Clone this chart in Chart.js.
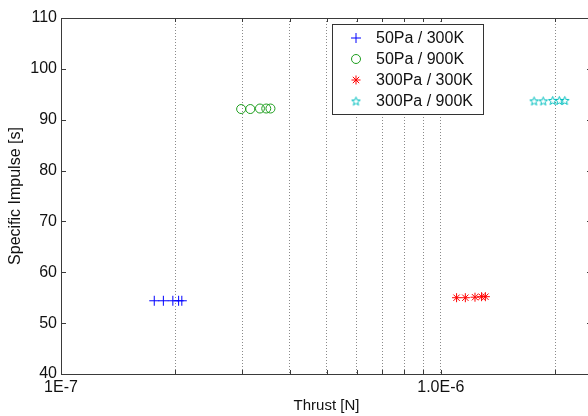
<!DOCTYPE html>
<html lang="en">
<head>
  <meta charset="UTF-8">
  <title>Specific Impulse vs Thrust</title>
  <script src="https://cdn.jsdelivr.net/npm/chart.js"></script>
  <style>
    html, body {
      margin: 0;
      padding: 0;
      background: #fff;
      overflow: hidden;
    }
    #wrap {
      width: 600px;
      height: 416px;
    }
  </style>
</head>
<body>
  <div id="wrap"><canvas id="ispChart"></canvas></div>

  <script>
    // Data
    const thrust50_300 = [1.76e-7, 1.86e-7, 1.97e-7, 2.04e-7, 2.08e-7];
    const isp50_300 = [54.4, 54.4, 54.4, 54.4, 54.4];

    const thrust50_900 = [2.98e-7, 3.15e-7, 3.34e-7, 3.47e-7, 3.56e-7];
    const isp50_900 = [92.1, 92.1, 92.2, 92.2, 92.2];

    const thrust300_300 = [1.10e-6, 1.16e-6, 1.23e-6, 1.28e-6, 1.31e-6];
    const isp300_300 = [55.0, 55.0, 55.1, 55.2, 55.2];

    const thrust300_900 = [1.76e-6, 1.86e-6, 1.97e-6, 2.05e-6, 2.12e-6];
    const isp300_900 = [93.7, 93.7, 93.8, 93.8, 93.8];

    const seriesLabels = ['50Pa / 300K', '50Pa / 900K', '300Pa / 300K', '300Pa / 900K'];

    const xMajorTicks = [1e-7, 1e-6];
    const xMajorLabels = ['1E-7', '1.0E-6'];
    const xMinorTicks = [2e-7, 3e-7, 4e-7, 5e-7, 6e-7, 7e-7, 8e-7, 9e-7, 2e-6];
    const yTicks = [40, 50, 60, 70, 80, 90, 100, 110];

    const axisColor = '#3a3a3a';
    const gridColor = '#8a8a8a';
    const fontFamily = '"Liberation Sans", Arial, sans-serif';

    // matlab-style pentagram marker
    function makePentagram(color, size) {
      const c = document.createElement('canvas');
      c.width = size;
      c.height = size;
      const g = c.getContext('2d');
      const cx = size / 2, cy = size / 2;
      const rOut = size / 2 - 1, rIn = rOut * 0.42;
      g.beginPath();
      for (let i = 0; i < 10; i++) {
        const r = i % 2 === 0 ? rOut : rIn;
        const a = -Math.PI / 2 + i * Math.PI / 5;
        const px = cx + r * Math.cos(a), py = cy + r * Math.sin(a) + 0.5;
        if (i === 0) g.moveTo(px, py); else g.lineTo(px, py);
      }
      g.closePath();
      g.strokeStyle = color;
      g.lineWidth = 1;
      g.stroke();
      return c;
    }
    const pentagram = makePentagram('#00bfbf', 11);

    function toPoints(xs, ys) {
      return xs.map((x, i) => ({ x: x, y: ys[i] }));
    }

    // box, inward ticks and the floating legend
    const matlabFrame = {
      id: 'matlabFrame',
      afterDraw(chart) {
        const ctx = chart.ctx;
        const a = chart.chartArea;
        const xs = chart.scales.x, ys = chart.scales.y;
        ctx.save();
        ctx.strokeStyle = axisColor;
        ctx.lineWidth = 1;
        ctx.beginPath();
        ctx.moveTo(a.left + 0.5, a.top + 0.5);
        ctx.lineTo(a.right + 0.5, a.top + 0.5);
        ctx.lineTo(a.right + 0.5, a.bottom + 0.5);
        ctx.lineTo(a.left + 0.5, a.bottom + 0.5);
        ctx.closePath();
        ctx.stroke();

        ctx.beginPath();
        xMajorTicks.concat(xMinorTicks).forEach(v => {
          const px = Math.round(xs.getPixelForValue(v)) + 0.5;
          ctx.moveTo(px, a.bottom);
          ctx.lineTo(px, a.bottom - 4);
          ctx.moveTo(px, a.top);
          ctx.lineTo(px, a.top + 4);
        });
        yTicks.forEach(v => {
          const py = Math.round(ys.getPixelForValue(v)) + 0.5;
          ctx.moveTo(a.left, py);
          ctx.lineTo(a.left + 5, py);
          ctx.moveTo(a.right, py);
          ctx.lineTo(a.right - 5, py);
        });
        ctx.stroke();

        // legend
        const bx = 332.5, by = 24.5, bw = 151, bh = 90;
        ctx.fillStyle = '#fff';
        ctx.fillRect(bx, by, bw, bh);
        ctx.strokeStyle = '#333';
        ctx.strokeRect(bx, by, bw, bh);
        ctx.font = '16px ' + fontFamily;
        ctx.textBaseline = 'middle';
        ctx.textAlign = 'left';
        chart.data.datasets.forEach((ds, i) => {
          const rowY = 38 + i * 21;
          ctx.strokeStyle = ds.borderColor;
          ctx.fillStyle = 'rgba(0,0,0,0)';
          Chart.helpers.drawPoint(ctx, {
            pointStyle: ds.pointStyle,
            radius: ds.pointRadius,
            borderWidth: 1,
            rotation: 0
          }, 356, rowY);
          ctx.fillStyle = '#111';
          ctx.fillText(ds.label, 376, rowY + 1);
        });
        ctx.restore();
      }
    };

    new Chart(document.getElementById('ispChart'), {
      type: 'scatter',
      data: {
        datasets: [{
          label: seriesLabels[0],
          data: toPoints(thrust50_300, isp50_300),
          pointStyle: 'cross',
          pointRadius: 5,
          borderColor: '#0000ff',
          backgroundColor: 'rgba(0,0,0,0)',
          pointBorderWidth: 1
        }, {
          label: seriesLabels[1],
          data: toPoints(thrust50_900, isp50_900),
          pointStyle: 'circle',
          pointRadius: 4.5,
          borderColor: '#1e9e1e',
          backgroundColor: 'rgba(0,0,0,0)',
          pointBorderWidth: 1
        }, {
          label: seriesLabels[2],
          data: toPoints(thrust300_300, isp300_300),
          pointStyle: 'star',
          pointRadius: 4.5,
          borderColor: '#ff0000',
          backgroundColor: 'rgba(0,0,0,0)',
          pointBorderWidth: 1
        }, {
          label: seriesLabels[3],
          data: toPoints(thrust300_900, isp300_900),
          pointStyle: pentagram,
          pointRadius: 5,
          borderColor: '#00bfbf',
          backgroundColor: 'rgba(0,0,0,0)',
          pointBorderWidth: 1
        }]
      },
      options: {
        responsive: true,
        maintainAspectRatio: false,
        animation: false,
        events: [],
        layout: { padding: { top: 18, right: 8, left: 0, bottom: 0 } },
        plugins: {
          legend: { display: false },
          tooltip: { enabled: false }
        },
        scales: {
          x: {
            type: 'logarithmic',
            min: 1e-7,
            max: 2.5e-6,
            afterBuildTicks(scale) {
              scale.ticks = xMajorTicks.concat(xMinorTicks)
                .sort((p, q) => p - q)
                .map(v => ({ value: v, major: xMajorTicks.includes(v) }));
            },
            afterFit(scale) { scale.height = 42; },
            border: { display: false, dash: [1, 2] },
            grid: {
              drawTicks: false,
              color: ctx => (ctx.tick && ctx.tick.value === 1e-7) ? 'rgba(0,0,0,0)' : gridColor,
              lineWidth: 1
            },
            ticks: {
              autoSkip: false,
              maxRotation: 0,
              padding: 4,
              color: '#111',
              font: { size: 16, family: fontFamily },
              callback: v => {
                const k = xMajorTicks.indexOf(v);
                return k >= 0 ? xMajorLabels[k] : '';
              }
            },
            title: {
              display: true,
              text: 'Thrust [N]',
              color: '#111',
              font: { size: 15, family: fontFamily },
              padding: { top: 0, bottom: 1 }
            }
          },
          y: {
            min: 40,
            max: 110,
            afterBuildTicks(scale) {
              scale.ticks = yTicks.map(v => ({ value: v }));
            },
            afterFit(scale) { scale.width = 61; },
            border: { display: false },
            grid: { display: false, drawTicks: false },
            ticks: {
              padding: 4,
              color: '#111',
              font: { size: 16, family: fontFamily }
            },
            title: {
              display: true,
              text: 'Specific Impulse [s]',
              color: '#111',
              font: { size: 16, family: fontFamily },
              padding: { top: 6, bottom: 0 }
            }
          }
        }
      },
      plugins: [matlabFrame]
    });
  </script>
</body>
</html>
